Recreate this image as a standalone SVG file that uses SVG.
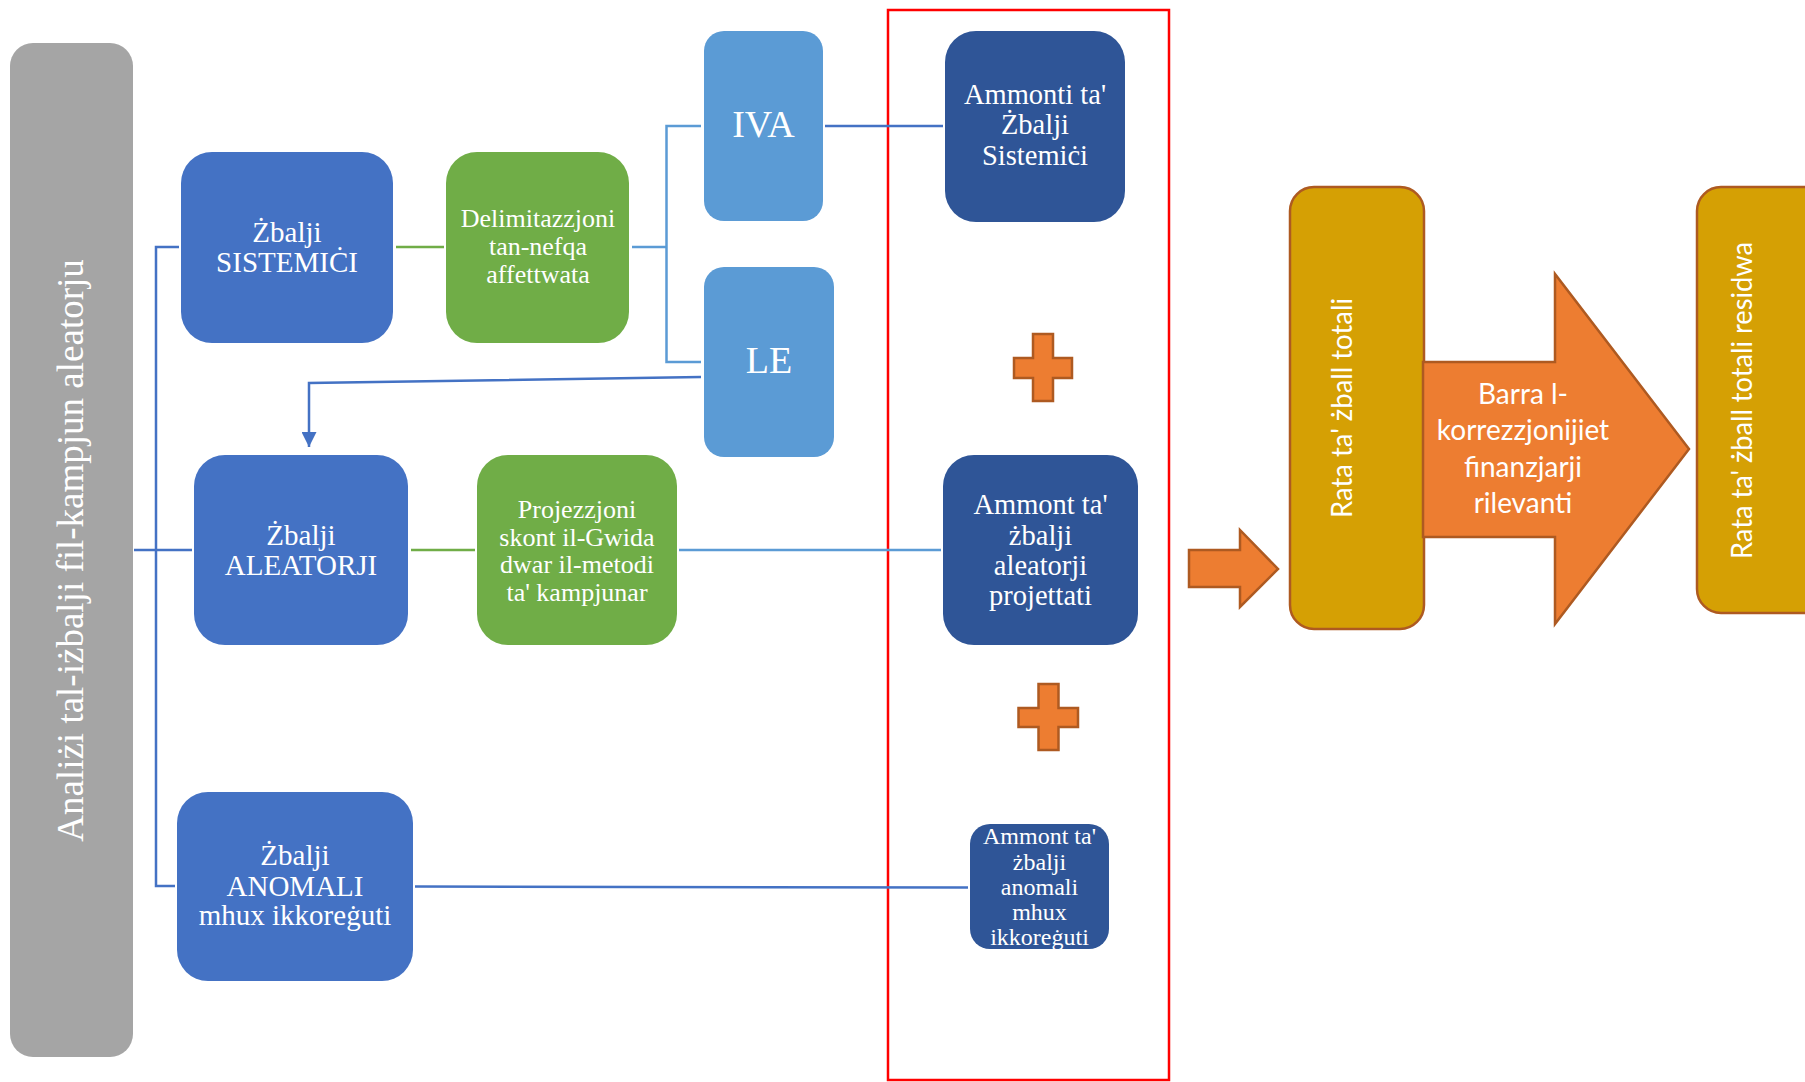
<svg xmlns="http://www.w3.org/2000/svg" width="1805" height="1082" viewBox="0 0 1805 1082">
<defs>
<style>
.serif{font-family:"Liberation Serif","Times New Roman",serif;fill:#ffffff;text-anchor:middle}
.sans{font-family:Lato,"Liberation Sans",sans-serif;fill:#ffffff;text-anchor:middle}
.blue{fill:#4472C4}
.lblue{fill:#5B9BD5}
.dblue{fill:#2F5597}
.green{fill:#70AD47}
.gold{fill:#D5A004;stroke:#AE5A21;stroke-width:2.5}
.orange{fill:#ED7D31;stroke:#AE5A21;stroke-width:2.5}
.c-blue{fill:none;stroke:#4472C4;stroke-width:2.5}
.c-lblue{fill:none;stroke:#5B9BD5;stroke-width:2.5}
.c-green{fill:none;stroke:#70AD47;stroke-width:2.5}
</style>
<marker id="arr" viewBox="0 0 10 10" refX="10" refY="5" markerWidth="6.5" markerHeight="6" markerUnits="strokeWidth" orient="auto">
<path d="M0,0 L10,5 L0,10 z" fill="#4472C4"/>
</marker>
</defs>
<rect width="1805" height="1082" fill="#ffffff"/>

<g id="analysis">
<rect x="10" y="43" width="123" height="1014" rx="23" fill="#A5A5A5"/>
<text class="serif" font-size="37" transform="translate(83,550.5) rotate(-90)">Analiżi tal-iżbalji fil-kampjun aleatorju</text>
</g>

<g id="red-frame">
<rect x="888" y="10" width="281" height="1070" fill="none" stroke="#FF0000" stroke-width="2.5"/>
</g>

<g id="connectors">
<polyline class="c-blue" points="179,247 156,247 156,886 175,886"/>
<line class="c-blue" x1="134" y1="550" x2="192" y2="550"/>
<line class="c-green" x1="396" y1="247" x2="444" y2="247"/>
<line class="c-green" x1="411" y1="550" x2="475" y2="550"/>
<line class="c-lblue" x1="632" y1="247" x2="666.5" y2="247"/>
<polyline class="c-lblue" points="701,126 666.5,126 666.5,362 701,362"/>
<line class="c-blue" x1="825" y1="126" x2="943" y2="126"/>
<polyline class="c-blue" points="701,377 309,383 309,447" marker-end="url(#arr)"/>
<line class="c-lblue" x1="679" y1="550" x2="941" y2="550"/>
<line class="c-blue" x1="415" y1="886.5" x2="968" y2="887.5"/>
</g>

<g id="zbalji-sistemici">
<rect class="blue" x="181" y="152" width="212" height="191" rx="31"/>
<text class="serif" font-size="29"><tspan x="287" y="242">Żbalji</tspan><tspan x="287" y="272">SISTEMIĊI</tspan></text>
</g>

<g id="delimitazzjoni">
<rect class="green" x="446" y="152" width="183" height="191" rx="31"/>
<text class="serif" font-size="26"><tspan x="538" y="227">Delimitazzjoni</tspan><tspan x="538" y="255">tan-nefqa</tspan><tspan x="538" y="283">affettwata</tspan></text>
</g>

<g id="iva">
<rect class="lblue" x="704" y="31" width="119" height="190" rx="20"/>
<text class="serif" font-size="38" x="763.5" y="137">IVA</text>
</g>

<g id="le">
<rect class="lblue" x="704" y="267" width="130" height="190" rx="20"/>
<text class="serif" font-size="38" x="769" y="373">LE</text>
</g>

<g id="ammonti-sistemici">
<rect class="dblue" x="945" y="31" width="180" height="191" rx="31"/>
<text class="serif" font-size="28.5"><tspan x="1035" y="104">Ammonti ta'</tspan><tspan x="1035" y="134">Żbalji</tspan><tspan x="1035" y="165">Sistemiċi</tspan></text>
</g>

<g id="plus-1">
<path class="orange" stroke-width="2" d="M1033,334 H1053 V358 H1072 V378 H1053 V401 H1033 V378 H1014 V358 H1033 Z"/>
</g>

<g id="zbalji-aleatorji">
<rect class="blue" x="194" y="455" width="214" height="190" rx="31"/>
<text class="serif" font-size="29"><tspan x="301" y="545">Żbalji</tspan><tspan x="301" y="575">ALEATORJI</tspan></text>
</g>

<g id="projezzjoni">
<rect class="green" x="477" y="455" width="200" height="190" rx="31"/>
<text class="serif" font-size="26"><tspan x="577" y="518">Projezzjoni</tspan><tspan x="577" y="545.5">skont il-Gwida</tspan><tspan x="577" y="573">dwar il-metodi</tspan><tspan x="577" y="600.5">ta' kampjunar</tspan></text>
</g>

<g id="ammont-aleatorji">
<rect class="dblue" x="943" y="455" width="195" height="190" rx="31"/>
<text class="serif" font-size="28.5"><tspan x="1040.5" y="514">Ammont ta'</tspan><tspan x="1040.5" y="544.5">żbalji</tspan><tspan x="1040.5" y="575">aleatorji</tspan><tspan x="1040.5" y="604.5">projettati</tspan></text>
</g>

<g id="plus-2">
<path class="orange" stroke-width="2" d="M1038.5,684 H1058.5 V708 H1078 V727 H1058.5 V750 H1038.5 V727 H1018.5 V708 H1038.5 Z"/>
</g>

<g id="zbalji-anomali">
<rect class="blue" x="177" y="792" width="236" height="189" rx="31"/>
<text class="serif" font-size="29"><tspan x="295" y="865">Żbalji</tspan><tspan x="295" y="896">ANOMALI</tspan><tspan x="295" y="925">mhux ikkoreġuti</tspan></text>
</g>

<g id="ammont-anomali">
<rect class="dblue" x="970" y="824" width="139" height="125" rx="20"/>
<text class="serif" font-size="24"><tspan x="1039.5" y="844">Ammont ta'</tspan><tspan x="1039.5" y="869.5">żbalji</tspan><tspan x="1039.5" y="895">anomali</tspan><tspan x="1039.5" y="919.5">mhux</tspan><tspan x="1039.5" y="944.5">ikkoreġuti</tspan></text>
</g>

<g id="arrow-small">
<path class="orange" d="M1189,550 H1240 V530 L1278,569 L1240,607 V587 H1189 Z"/>
</g>

<g id="rata-totali">
<rect class="gold" x="1290" y="187" width="134" height="442" rx="24"/>
<text class="sans" font-size="29" transform="translate(1352,408) rotate(-90)" textLength="220" lengthAdjust="spacingAndGlyphs">Rata ta' żball totali</text>
</g>

<g id="barra-arrow">
<path class="orange" d="M1423,362 H1555 V274 L1689,449 L1555,624 V537 H1423 Z"/>
<text class="sans" font-size="28"><tspan x="1523" y="404">Barra l-</tspan><tspan x="1523" y="440">korrezzjonijiet</tspan><tspan x="1523" y="477">finanzjarji</tspan><tspan x="1523" y="513">rilevanti</tspan></text>
</g>

<g id="rata-residwa">
<rect class="gold" x="1697" y="187" width="140" height="426" rx="24"/>
<text class="sans" font-size="29" transform="translate(1752,400.5) rotate(-90)" textLength="317" lengthAdjust="spacingAndGlyphs">Rata ta' żball totali residwa</text>
</g>
</svg>
